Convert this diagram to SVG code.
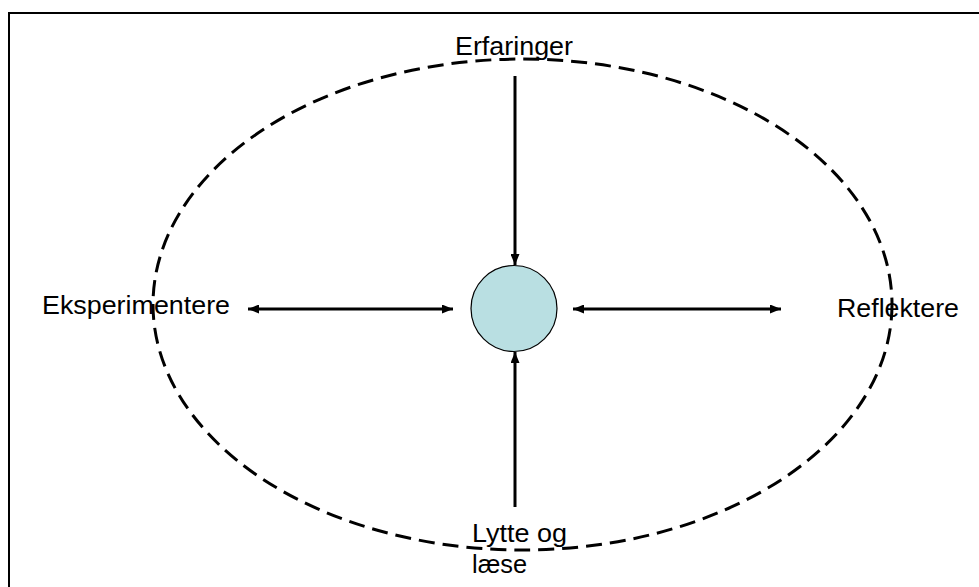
<svg xmlns="http://www.w3.org/2000/svg" width="979" height="587" viewBox="0 0 979 587">
<style>
.t{font-family:"Liberation Sans",Arial,sans-serif;font-size:25.5px;fill:#000}
.c{stroke:#000;stroke-width:3;fill:none}
</style>
<defs>
<marker id="ah" viewBox="0 0 11 9" refX="11" refY="4.5" markerWidth="11" markerHeight="9" markerUnits="userSpaceOnUse" orient="auto-start-reverse">
<path d="M0,0 L11,4.5 L0,9 Z" fill="#000"/>
</marker>
</defs>
<rect width="979" height="587" fill="#fff"/>
<rect x="9" y="13" width="1000" height="600" fill="none" stroke="#000" stroke-width="2"/>
<g id="ellipse">
<ellipse cx="522.5" cy="304.5" rx="369.5" ry="245.5" fill="none" stroke="#000" stroke-width="3" stroke-dasharray="16 8"/>
</g>
<g id="center">
<circle cx="514" cy="308.5" r="43" fill="#b9dfe2" stroke="#000" stroke-width="1.2"/>
</g>
<g id="connectors">
<line class="c" x1="515" y1="76" x2="515" y2="265" marker-end="url(#ah)"/>
<line class="c" x1="515" y1="507" x2="515" y2="352" marker-end="url(#ah)"/>
<line class="c" x1="248" y1="309" x2="453" y2="309" marker-start="url(#ah)" marker-end="url(#ah)"/>
<line class="c" x1="573" y1="309" x2="781" y2="309" marker-start="url(#ah)" marker-end="url(#ah)"/>
</g>
<g id="erfaringer"><text class="t" x="455" y="55" textLength="118" lengthAdjust="spacingAndGlyphs">Erfaringer</text></g>
<g id="eksperimentere"><text class="t" x="42" y="314" textLength="188" lengthAdjust="spacingAndGlyphs">Eksperimentere</text></g>
<g id="reflektere"><text class="t" x="837" y="316.5" textLength="122" lengthAdjust="spacingAndGlyphs">Reflektere</text></g>
<g id="lytte"><text class="t" x="472" y="541.5" textLength="95" lengthAdjust="spacingAndGlyphs">Lytte og</text><text class="t" x="472" y="573" textLength="55" lengthAdjust="spacingAndGlyphs">læse</text></g>
</svg>
